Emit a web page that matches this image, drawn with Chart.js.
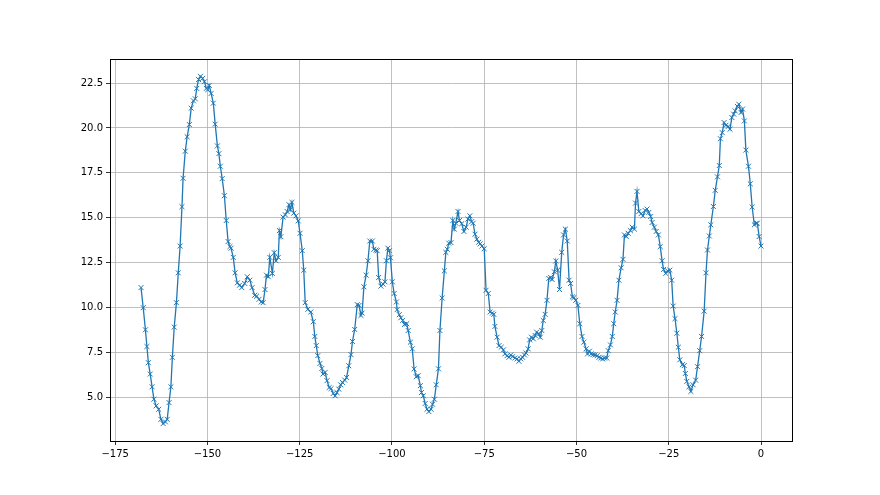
<!DOCTYPE html>
<html>
<head>
<meta charset="utf-8">
<script src="https://cdn.jsdelivr.net/npm/chart.js@4/dist/chart.umd.min.js"></script>
<style>
  html, body { margin: 0; padding: 0; background: #fff; }
  canvas { display: block; }
</style>
</head>
<body>
<canvas id="chart" width="880" height="495"></canvas>
<script>
// x positions of the samples
const xs = [
  -168.0, -167.4, -166.8, -166.4, -166.0, -165.5, -165.0, -164.5, -163.9, -163.2,
  -162.6, -162.0, -161.4, -160.9, -160.4, -159.9, -159.5, -159.0, -158.4, -157.9,
  -157.4, -156.9, -156.6, -156.0, -155.5, -154.9, -154.4, -153.8, -153.3, -152.9,
  -152.4, -151.9, -151.3, -150.8, -150.3, -149.9, -149.5, -149.0, -148.4, -147.9,
  -147.3, -146.9, -146.5, -146.0, -145.4, -144.9, -144.4, -143.9, -143.6, -143.0,
  -142.5, -141.9, -141.3, -140.7, -139.9, -139.2, -138.5, -137.9, -137.2, -136.7,
  -136.0, -135.4, -134.9, -134.4, -134.0, -133.5, -133.1, -132.4, -131.9, -131.4,
  -130.8, -130.5, -130.1, -129.5, -128.9, -128.4, -127.9, -127.5, -127.1, -126.6,
  -126.0, -125.4, -124.9, -124.3, -123.9, -123.5, -122.8, -122.0, -121.3, -120.9,
  -120.5, -120.1, -119.5, -119.0, -118.7, -118.1, -117.6, -117.0, -116.5, -115.9,
  -115.4, -114.9, -114.4, -113.9, -113.4, -112.8, -112.3, -111.7, -111.1, -110.7,
  -110.1, -109.4, -108.9, -108.4, -108.1, -107.6, -107.0, -106.5, -106.0, -105.3,
  -104.9, -104.3, -104.0, -103.6, -103.0, -102.4, -101.9, -101.5, -101.1, -100.7,
  -100.4, -99.9, -99.4, -98.8, -98.6, -98.0, -97.6, -97.1, -96.6, -96.0,
  -95.6, -95.0, -94.5, -94.0, -93.4, -92.9, -92.3, -92.0, -91.5, -91.0,
  -90.5, -90.0, -89.4, -89.0, -88.5, -88.0, -87.4, -87.0, -86.4, -85.8,
  -85.4, -85.0, -84.6, -84.0, -83.5, -83.1, -82.7, -82.1, -81.7, -81.1,
  -80.5, -79.9, -79.4, -78.9, -78.4, -78.0, -77.5, -77.0, -76.5, -76.1,
  -75.6, -75.0, -74.5, -73.9, -73.4, -72.8, -72.4, -72.1, -71.5, -71.0,
  -70.4, -69.8, -69.4, -68.8, -68.3, -67.8, -67.3, -66.7, -66.1, -65.6,
  -65.1, -64.6, -64.1, -63.7, -63.1, -62.7, -62.2, -61.7, -61.2, -60.8,
  -60.2, -59.8, -59.4, -59.0, -58.5, -58.0, -57.5, -57.0, -56.6, -56.0,
  -55.6, -55.1, -54.6, -54.0, -53.5, -53.0, -52.5, -52.0, -51.6, -51.1,
  -50.7, -50.2, -49.6, -49.1, -48.5, -48.0, -47.4, -47.0, -46.5, -46.0,
  -45.5, -45.0, -44.4, -43.9, -43.4, -42.9, -42.4, -41.8, -41.4, -40.8,
  -40.3, -39.9, -39.5, -39.0, -38.5, -37.9, -37.4, -37.0, -36.5, -36.0,
  -35.4, -34.9, -34.3, -34.0, -33.6, -33.1, -32.5, -32.0, -31.4, -30.9,
  -30.4, -29.9, -29.5, -28.9, -28.4, -27.8, -27.3, -26.8, -26.4, -25.8,
  -25.3, -24.7, -24.2, -23.8, -23.3, -22.8, -22.4, -22.0, -21.3, -20.8,
  -20.5, -20.1, -19.5, -19.0, -18.4, -17.7, -17.2, -16.6, -16.1, -15.4,
  -14.9, -14.5, -14.0, -13.6, -12.9, -12.4, -11.8, -11.3, -11.0, -10.5,
  -10.0, -9.5, -8.9, -8.4, -7.9, -7.4, -7.0, -6.4, -6.0, -5.4,
  -5.0, -4.5, -4.1, -3.4, -2.9, -2.4, -1.8, -1.3, -1.0, -0.5,
  0.0
];

// measured values
const ys = [
  11.12, 10.0, 8.77, 7.84, 6.94, 6.31, 5.60, 4.91, 4.54, 4.35,
  3.79, 3.55, 3.65, 3.79, 4.72, 5.60, 7.24, 8.92, 10.28, 11.94,
  13.43, 15.62, 17.2, 18.71, 19.51, 20.19, 21.1, 21.51, 21.62, 22.2,
  22.69, 22.87, 22.76, 22.57, 22.2, 22.13, 22.37, 21.92, 21.38, 20.21,
  19.0, 18.57, 17.87, 17.18, 16.23, 14.85, 13.68, 13.4, 13.31, 12.8,
  11.94, 11.38, 11.25, 11.12, 11.35, 11.72, 11.53, 11.12, 10.69, 10.64,
  10.47, 10.32, 10.28, 11.01, 11.81, 11.72, 12.8, 11.91, 13.06, 12.61,
  12.8, 14.29, 13.95, 15.04, 15.17, 15.35, 15.73, 15.45, 15.86, 15.26,
  15.11, 14.83, 14.14, 13.17, 12.09, 10.28, 9.91, 9.76, 9.22, 8.4,
  7.89, 7.33, 6.9, 6.62, 6.31, 6.40, 5.94, 5.56, 5.5, 5.23,
  5.1, 5.28, 5.47, 5.71, 5.84, 5.97, 6.12, 6.77, 7.39, 8.12,
  8.79, 10.17, 10.13, 9.57, 9.7, 11.16, 11.81, 12.61, 13.71, 13.71,
  13.25, 13.21, 13.17, 11.68, 11.2, 11.31, 11.44, 12.61, 13.31, 13.17,
  12.78, 11.44, 10.79, 10.32, 9.89, 9.61, 9.44, 9.29, 9.07, 9.11,
  8.73, 8.08, 7.71, 6.59, 6.16, 6.22, 5.66, 5.28, 5.1, 4.67,
  4.35, 4.22, 4.35, 4.63, 4.91, 5.71, 6.6, 8.73, 10.54, 12.05,
  13.08, 13.25, 13.59, 13.62, 14.85, 14.37, 14.7, 15.35, 14.85, 14.67,
  14.24, 14.48, 14.93, 15.11, 14.79, 14.7, 14.09, 13.81, 13.64, 13.55,
  13.43, 13.28, 10.97, 10.79, 9.76, 9.7, 9.63, 8.96, 8.36, 7.89,
  7.8, 7.65, 7.43, 7.33, 7.24, 7.37, 7.28, 7.2, 7.15, 7.02,
  7.15, 7.24, 7.37, 7.48, 7.71, 8.21, 8.36, 8.27, 8.45, 8.64,
  8.55, 8.36, 8.73, 9.29, 9.63, 10.41, 11.63, 11.68, 11.57, 12.0,
  12.6, 12.09, 11.01, 13.08, 14.05, 14.37, 13.71, 11.53, 11.35, 10.6,
  10.56, 10.41, 10.13, 9.11, 8.4, 8.08, 7.71, 7.43, 7.58, 7.43,
  7.39, 7.37, 7.33, 7.24, 7.2, 7.15, 7.2, 7.2, 7.61, 7.93,
  8.4, 9.11, 9.76, 10.41, 11.53, 12.22, 12.69, 14.05, 13.96, 14.14,
  14.29, 14.48, 14.37, 15.82, 16.47, 15.35, 15.23, 15.11, 15.41, 15.49,
  15.3, 15.07, 14.74, 14.48, 14.24, 14.05, 13.4, 12.61, 12.13, 11.91,
  12.05, 12.09, 11.53, 10.09, 9.39, 8.58, 7.8, 7.1, 6.83, 6.78,
  6.34, 5.9, 5.6, 5.34, 5.71, 5.97, 6.72, 7.61, 8.4, 9.81,
  11.94, 13.21, 13.99, 14.61, 15.63, 16.53, 17.28, 17.91, 19.4, 19.74,
  20.3, 20.15, 20.08, 19.93, 20.58, 20.77, 20.95, 21.2, 21.32, 20.86,
  21.05, 20.39, 18.77, 17.87, 16.89, 15.6, 14.61, 14.7, 14.7, 13.96,
  13.43
];

// tick labels
const xTicks = [-175, -150, -125, -100, -75, -50, -25, 0];
const yTicks = [5.0, 7.5, 10.0, 12.5, 15.0, 17.5, 20.0, 22.5];

// matplotlib style 5% margins
const xSpan = Math.max(...xs) - Math.min(...xs);
const ySpan = Math.max(...ys) - Math.min(...ys);
const xMin = Math.min(...xs) - 0.05 * xSpan, xMax = Math.max(...xs) + 0.05 * xSpan;
const yMin = Math.min(...ys) - 0.05 * ySpan, yMax = Math.max(...ys) + 0.05 * ySpan;

const blue = '#1f77b4';
const fontSpec = { family: 'DejaVu Sans', size: 10 };

// draw the full box around the axes
const frame = {
  id: 'frame',
  afterDraw(chart) {
    const { ctx, chartArea: a } = chart;
    ctx.save();
    ctx.strokeStyle = '#000';
    ctx.lineWidth = 1;
    ctx.strokeRect(Math.round(a.left) + 0.5, Math.round(a.top) + 0.5,
      Math.round(a.right - a.left), Math.round(a.bottom - a.top));
    ctx.restore();
  }
};

new Chart(document.getElementById('chart'), {
  type: 'scatter',
  data: {
    datasets: [{
      data: xs.map((x, i) => ({ x: x, y: ys[i] })),
      showLine: true,
      borderColor: blue,
      borderWidth: 1.3,
      pointStyle: 'crossRot',
      pointRadius: 3.5,
      pointBorderWidth: 1,
      pointBorderColor: blue,
      pointBackgroundColor: blue,
      tension: 0
    }]
  },
  options: {
    responsive: false,
    animation: false,
    layout: { padding: { top: 59, right: 88, left: 0, bottom: 0 } },
    plugins: { legend: { display: false }, tooltip: { enabled: false } },
    scales: {
      x: {
        type: 'linear',
        min: xMin,
        max: xMax,
        afterBuildTicks: s => { s.ticks = xTicks.map(v => ({ value: v })); },
        afterFit: s => { s.height = 54; },
        grid: { color: '#b0b0b0', lineWidth: 0.8, tickLength: 4, tickColor: '#000' },
        border: { display: true, color: '#000' },
        ticks: {
          color: '#000', font: fontSpec, padding: 3, maxRotation: 0,
          callback: v => (v < 0 ? '\u2212' + Math.abs(v) : String(v))
        }
      },
      y: {
        type: 'linear',
        min: yMin,
        max: yMax,
        afterBuildTicks: s => { s.ticks = yTicks.map(v => ({ value: v })); },
        afterFit: s => { s.width = 110; },
        grid: { color: '#b0b0b0', lineWidth: 0.8, tickLength: 4, tickColor: '#000' },
        border: { display: true, color: '#000' },
        ticks: { color: '#000', font: fontSpec, padding: 3, callback: v => v.toFixed(1) }
      }
    }
  },
  plugins: [frame]
});
</script>
</body>
</html>
